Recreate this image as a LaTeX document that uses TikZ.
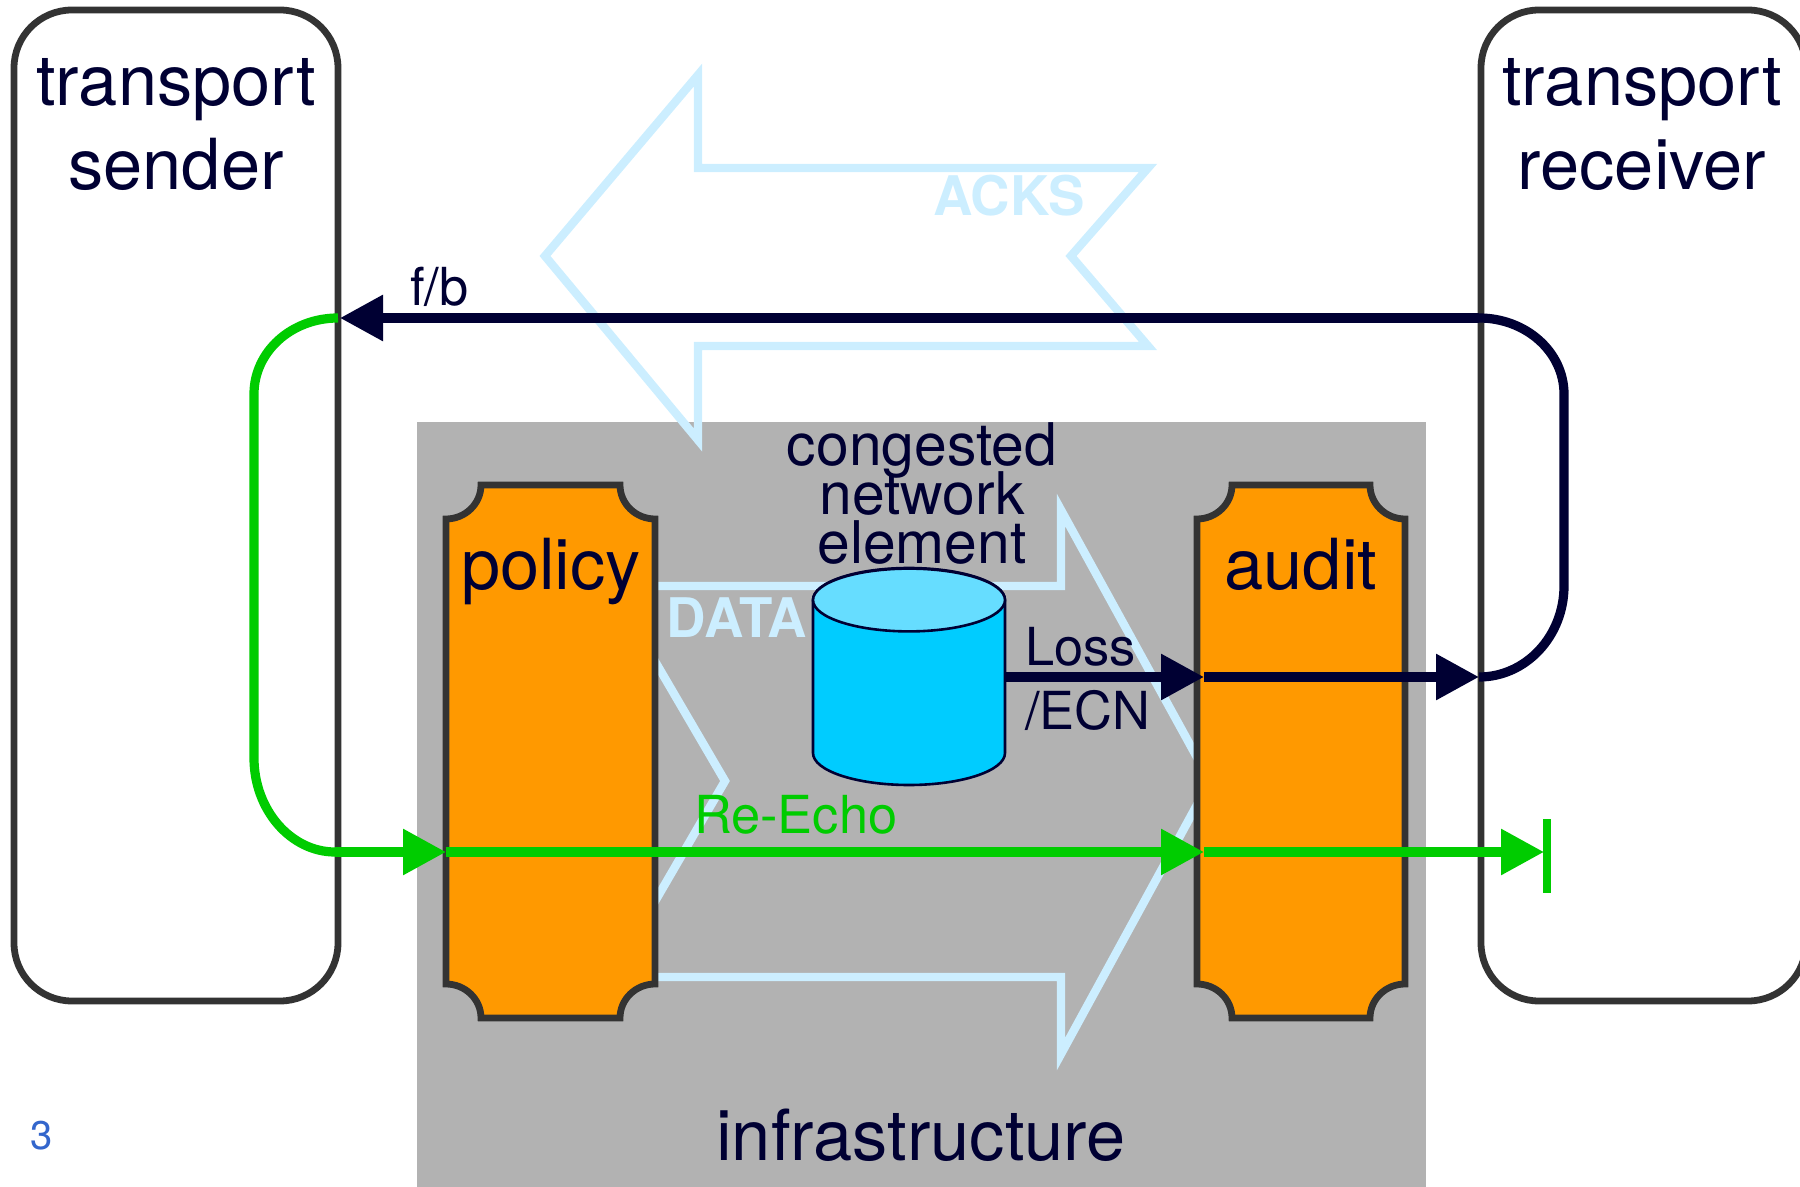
\documentclass[tikz,border=0pt]{standalone}
\usepackage{fontspec}
\setmainfont{TeX Gyre Heros}
\usetikzlibrary{arrows.meta}
\lineskiplimit=-100pt
\lineskip=0pt
\definecolor{navy}{HTML}{000033}
\definecolor{boxgrey}{HTML}{333333}
\definecolor{infragrey}{HTML}{B2B2B2}
\definecolor{pale}{HTML}{CCEEFF}
\definecolor{amber}{HTML}{FF9900}
\definecolor{cyantop}{HTML}{66DDFF}
\definecolor{cyanbody}{HTML}{00CCFF}
\definecolor{signalgreen}{HTML}{00CC00}
\definecolor{pagenum}{HTML}{3366CC}
\newcommand{\notchbox}[4]{%
  (#1,#3+34) .. controls (#1+19,#3+34) and (#1+35,#3+19) .. (#1+35,#3)
  -- (#2-35,#3) .. controls (#2-35,#3+19) and (#2-19,#3+34) .. (#2,#3+34)
  -- (#2,#4-34) .. controls (#2-19,#4-34) and (#2-35,#4-19) .. (#2-35,#4)
  -- (#1+35,#4) .. controls (#1+35,#4-19) and (#1+19,#4-34) .. (#1,#4-34)
  -- cycle}
\tikzset{
  endbox/.style={draw=boxgrey,line width=3.4pt,rounded corners=29pt,fill=white},
  midbox/.style={draw=boxgrey,line width=3.4pt,fill=amber,miter limit=10},
  flowarrow/.style={draw=pale,line width=4.2pt,line join=miter,miter limit=10},
  lab/.style={inner sep=0pt,outer sep=0pt,anchor=base},
  big/.style={lab,text=navy,align=center,font=\fontsize{35.2}{42.2}\selectfont},
  mid/.style={lab,text=navy,align=center,font=\fontsize{29.4}{24.7}\selectfont},
  small/.style={lab,text=navy,font=\fontsize{26.2}{32}\selectfont},
  flowlab/.style={lab,text=pale,font=\fontsize{27.3}{30}\selectfont\bfseries},
  navyline/.style={draw=navy,line width=4.6pt},
  greenline/.style={draw=signalgreen,line width=4.6pt},
  navyhead/.style={navyline,-{Triangle[length=21.5pt,width=22pt]}},
  greenhead/.style={greenline,-{Triangle[length=21.5pt,width=22pt]}},
}
\begin{document}
\begin{tikzpicture}[x=0.5pt,y=-0.5pt]
\useasboundingbox (0,0) rectangle (1800,1187);
\clip (0,0) rectangle (1800,1187);

% end systems
\draw[endbox] (14,10) rectangle (338,1001);
\draw[endbox] (1481,10) rectangle (1806,1001);

% infrastructure
\fill[infragrey] (417,422) rectangle (1426,1187);

% ACKS and DATA block arrows
\draw[flowarrow] (545,256) -- (698,75) -- (698,168) -- (1148,168) -- (1071,256)
  -- (1148,346) -- (698,346) -- (698,440) -- cycle;
\draw[flowarrow] (611,586) -- (1061,586) -- (1061,510) -- (1210,781) -- (1061,1054)
  -- (1061,977) -- (611,977) -- (725,781) -- cycle;

% policy and audit
\draw[midbox] \notchbox{446}{655}{485}{1018};
\draw[midbox] \notchbox{1197}{1405}{485}{1018};

% geometry anchors
\node[inner sep=0pt,minimum width=96pt,minimum height=108pt] (cyl) at (909,677) {};
\coordinate (polIn) at (446,852);
\coordinate (audNavy) at (1204,677);
\coordinate (audGreen) at (1204,852);
\coordinate (recvIn) at (1479,677);
\coordinate (recvR1) at (1564,586);
\coordinate (recvR2) at (1564,394);
\coordinate (recvFb) at (1479,318);
\coordinate (sendFb) at (340,318);
\coordinate (sendTop) at (338,318);
\coordinate (sendL1) at (254,394);
\coordinate (sendL2) at (254,758);
\coordinate (sendBot) at (335,852);
\coordinate (stopPt) at (1544,852);
\coordinate (stopTop) at (1547,819);
\coordinate (stopBot) at (1547,893);

% cylinder
\filldraw[draw=navy,fill=cyanbody,line width=1.3pt]
  (813,600) -- (813,753) arc[start angle=180,end angle=360,x radius=48pt,y radius=16pt]
  -- (1005,600) arc[start angle=0,end angle=180,x radius=48pt,y radius=16pt] -- cycle;
\filldraw[draw=navy,fill=cyantop,line width=1.3pt]
  (909,600) ellipse [x radius=48pt,y radius=15.7pt];

% flow labels
\node[flowlab] (acks) at (1009,216) {ACKS};
\node[flowlab] (data) at (737,638) {DATA};

% navy feedback loop
\draw[navyhead] (cyl.east |- audNavy) -- (audNavy);
\draw[navyhead] (audNavy) -- (recvIn);
\draw[navyline] (recvIn) .. controls (1526,677) and (1564,636) .. (recvR1)
  -- (recvR2) .. controls (1564,352) and (1526,318) .. (recvFb);
\draw[navyhead] (recvFb) -- (sendFb);

% green re-echo loop
\draw[greenline] (sendTop) .. controls (291,318) and (254,352) .. (sendL1)
  -- (sendL2) .. controls (254,810) and (291,852) .. (sendBot);
\draw[greenhead] (sendBot) -- (polIn);
\draw[greenhead] (polIn) -- (audGreen);
\draw[greenhead] (audGreen) -- (stopPt);
\draw[signalgreen,line width=4pt] (stopTop) -- (stopBot);

% labels
\node[big] (sender) at (176,190) {transport\\sender};
\node[big] (receiver) at (1642,190) {transport\\receiver};
\node[big] (policy) at (551,589) {policy};
\node[big] (audit) at (1301,589) {audit};
\node[big] (infra) at (921,1160) {infrastructure};
\node[mid] (congested) at (922,564) {congested\\network\\element};
\node[small,anchor=base west] (fb) at (410,306) {f/b};
\node[small,anchor=base west,align=left] (loss) at (1025,729) {Loss\\/ECN};
\node[small,anchor=base west,text=signalgreen] (reecho) at (694,833) {Re-Echo};
\node[lab,anchor=base west,text=pagenum,font=\fontsize{20}{22}\selectfont] (pagenum) at (30,1149) {3};
\end{tikzpicture}
\end{document}
